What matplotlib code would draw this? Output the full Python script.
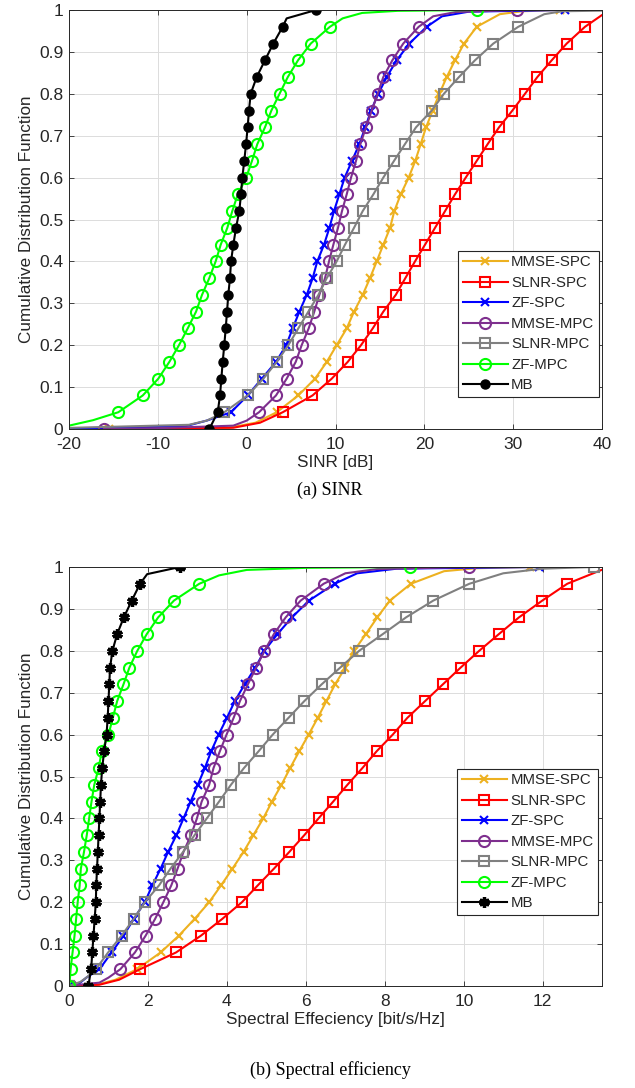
import numpy as np
import matplotlib
matplotlib.use("Agg")
import matplotlib.pyplot as plt

# ---------------- data ----------------
cdf_levels = [0.00, 0.04, 0.08, 0.12, 0.16, 0.20, 0.24, 0.28, 0.32, 0.36, 0.40, 0.44, 0.48,
              0.52, 0.56, 0.60, 0.64, 0.68, 0.72, 0.76, 0.80, 0.84, 0.88, 0.92, 0.96, 1.00]

names = ["MMSE-SPC", "SLNR-SPC", "ZF-SPC", "MMSE-MPC", "SLNR-MPC", "ZF-MPC", "MB"]

# SINR [dB] quantiles at cdf_levels
sinr_mmse_spc = [-15.5, 3.38, 5.81, 7.69, 9.01, 10.13, 11.26, 12.08, 13.06, 13.88, 14.64, 15.38, 16.14,
                 16.62, 17.34, 18.24, 18.98, 19.59, 20.19, 20.94, 21.69, 22.52, 23.45, 24.47, 25.9, 35.3]
sinr_slnr_spc = [-22.0, 4.06, 7.41, 9.57, 11.37, 12.87, 14.19, 15.38, 16.78, 17.86, 18.95, 20.08, 21.2,
                 22.33, 23.45, 24.66, 25.9, 27.13, 28.41, 29.91, 31.33, 32.72, 34.34, 36.03, 38.09, 44.0]
sinr_zf_spc = [-24.0, -1.76, 0.11, 1.7, 3.3, 4.45, 5.18, 5.93, 6.76, 7.43, 7.95, 8.71, 9.31,
               9.83, 10.43, 11.03, 11.86, 12.68, 13.36, 14.0, 14.82, 15.76, 16.89, 18.31, 20.27, 35.84]
sinr_mmse_mpc = [-16.06, 1.39, 3.30, 4.5, 5.52, 6.19, 6.98, 7.61, 8.18, 8.82, 9.27, 9.76, 10.28,
                 10.73, 11.26, 11.75, 12.31, 12.80, 13.43, 14.08, 14.75, 15.38, 16.4, 17.63, 19.37, 30.47]
sinr_slnr_mpc = [-25.0, -2.52, 0.11, 1.87, 3.38, 4.69, 5.81, 6.94, 8.07, 9.01, 10.13, 11.07, 12.08,
                 13.06, 14.26, 15.38, 16.59, 17.82, 19.06, 20.83, 22.2, 23.9, 25.7, 27.77, 30.58, 45.0]
sinr_zf_mpc = [-32.0, -14.45, -11.7, -9.95, -8.71, -7.62, -6.64, -5.70, -5.03, -4.21, -3.49, -2.92, -2.18,
               -1.62, -1.0, -0.05, 0.6, 1.2, 2.06, 2.78, 3.7, 4.63, 5.78, 7.22, 9.38, 25.9]
sinr_mb = [-4.2, -3.26, -3.0, -2.85, -2.70, -2.52, -2.36, -2.21, -2.07, -1.88, -1.76, -1.50, -1.20,
           -0.83, -0.64, -0.49, -0.27, -0.07, 0.11, 0.26, 0.45, 1.13, 2.06, 3.0, 4.06, 7.8]

# extra line points (cdf, SINR) between the marked quantiles
sinr_tail_cdf = {
    "MMSE-SPC": [0.003, 0.015, 0.99, 0.997],
    "SLNR-SPC": [0.003, 0.015, 0.988],
    "ZF-SPC": [0.006, 0.02, 0.985, 0.996],
    "MMSE-MPC": [0.002, 0.008, 0.02, 0.985, 0.995],
    "SLNR-MPC": [0.01, 0.02, 0.99, 0.997],
    "ZF-MPC": [0.008, 0.021, 0.98, 0.993, 0.998],
    "MB": [0.98],
}
sinr_tail_x = {
    "MMSE-SPC": [-2.0, 1.0, 28.5, 31.0],
    "SLNR-SPC": [-1.5, 1.5, 40.0],
    "ZF-SPC": [-7.0, -4.5, 22.0, 25.0],
    "MMSE-MPC": [-10.0, -1.5, 0.0, 21.0, 23.5],
    "SLNR-MPC": [-6.5, -4.5, 33.5, 35.5],
    "ZF-MPC": [-20.0, -17.3, 10.8, 13.0, 17.0],
    "MB": [4.5],
}

# Spectral efficiency [bit/s/Hz] quantiles at cdf_levels
se_mmse_spc = [0.04, 1.72, 2.32, 2.78, 3.18, 3.55, 3.85, 4.14, 4.42, 4.67, 4.92, 5.14, 5.38,
               5.60, 5.83, 6.07, 6.30, 6.52, 6.74, 7.00, 7.22, 7.52, 7.81, 8.13, 8.66, 11.68]
se_slnr_spc = [0.0, 1.80, 2.71, 3.34, 3.88, 4.38, 4.78, 5.19, 5.58, 5.96, 6.32, 6.69, 7.05,
               7.43, 7.79, 8.20, 8.57, 9.02, 9.47, 9.92, 10.39, 10.89, 11.40, 11.99, 12.62, 14.2]
se_zf_spc = [0.0, 0.77, 1.08, 1.38, 1.64, 1.92, 2.11, 2.32, 2.51, 2.72, 2.90, 3.08, 3.26,
             3.44, 3.60, 3.79, 4.00, 4.20, 4.45, 4.72, 4.95, 5.28, 5.65, 6.08, 6.73, 11.91]
se_mmse_mpc = [0.04, 1.30, 1.67, 1.94, 2.18, 2.39, 2.59, 2.75, 2.90, 3.09, 3.24, 3.36, 3.55,
               3.66, 3.82, 3.99, 4.17, 4.33, 4.53, 4.74, 4.95, 5.19, 5.49, 5.87, 6.45, 10.13]
se_slnr_mpc = [0.0, 0.68, 0.99, 1.33, 1.64, 1.92, 2.28, 2.57, 2.89, 3.18, 3.49, 3.80, 4.10,
               4.43, 4.80, 5.16, 5.56, 5.96, 6.40, 6.87, 7.35, 7.95, 8.54, 9.23, 10.14, 13.3]
se_zf_mpc = [0.01, 0.04, 0.09, 0.14, 0.18, 0.22, 0.27, 0.30, 0.38, 0.45, 0.51, 0.57, 0.64,
             0.75, 0.83, 1.0, 1.11, 1.22, 1.38, 1.53, 1.73, 1.97, 2.26, 2.66, 3.30, 8.64]
se_mb = [0.49, 0.56, 0.59, 0.62, 0.65, 0.68, 0.69, 0.71, 0.73, 0.75, 0.77, 0.79, 0.81,
         0.84, 0.89, 0.95, 0.98, 1.0, 1.02, 1.04, 1.10, 1.22, 1.39, 1.59, 1.80, 2.81]

se_tail_cdf = {
    "MMSE-SPC": [0.003, 0.015, 0.99, 0.997],
    "SLNR-SPC": [0.003, 0.015, 0.993],
    "ZF-SPC": [0.006, 0.02, 0.985, 0.996],
    "MMSE-MPC": [0.002, 0.008, 0.02, 0.985, 0.995],
    "SLNR-MPC": [0.01, 0.02, 0.985, 0.996],
    "ZF-MPC": [0.98, 0.993, 0.998],
    "MB": [0.983],
}
se_tail_x = {
    "MMSE-SPC": [0.70, 1.18, 9.5, 10.3],
    "SLNR-SPC": [0.77, 1.27, 13.49],
    "ZF-SPC": [0.26, 0.44, 7.3, 8.3],
    "MMSE-MPC": [0.14, 0.77, 1.0, 7.0, 7.8],
    "SLNR-MPC": [0.29, 0.44, 11.0, 12.0],
    "ZF-MPC": [3.8, 4.5, 6.0],
    "MB": [1.98],
}

sinr_data = dict(zip(names, [sinr_mmse_spc, sinr_slnr_spc, sinr_zf_spc, sinr_mmse_mpc,
                             sinr_slnr_mpc, sinr_zf_mpc, sinr_mb]))
se_data = dict(zip(names, [se_mmse_spc, se_slnr_spc, se_zf_spc, se_mmse_mpc,
                           se_slnr_mpc, se_zf_mpc, se_mb]))

# ---------------- styles ----------------
colors = {"MMSE-SPC": "#EDB120", "SLNR-SPC": "#FF0000", "ZF-SPC": "#0000FF",
          "MMSE-MPC": "#7E2F8E", "SLNR-MPC": "#808080", "ZF-MPC": "#00FF00", "MB": "#000000"}
markers = {"MMSE-SPC": ("x", 5.5, "none"), "SLNR-SPC": ("s", 6.5, "none"),
           "ZF-SPC": ("x", 5.5, "none"), "MMSE-MPC": ("o", 8, "none"),
           "SLNR-MPC": ("s", 6.5, "none"), "ZF-MPC": ("o", 8, "none")}

plt.rcParams["font.family"] = ["Liberation Sans", "DejaVu Sans"]
plt.rcParams["axes.unicode_minus"] = False
TXT = "#262626"

fig = plt.figure(figsize=(6.35, 10.88), dpi=100)
W, H = 635, 1088
ax1 = fig.add_axes([69 / W, 1 - 429 / H, 533 / W, 419 / H])
ax2 = fig.add_axes([69 / W, 1 - 986 / H, 533 / W, 419 / H])


def draw(ax, data, tail_cdf, tail_x, mb_marker):
    for n in names:
        xs = list(data[n]) + list(tail_x[n])
        ys = list(cdf_levels) + list(tail_cdf[n])
        is_mark = [True] * len(cdf_levels) + [False] * len(tail_cdf[n])
        order = np.argsort(ys, kind="stable")
        xs = np.array(xs)[order]
        ys = np.array(ys)[order]
        mk = [i for i, k in enumerate(order) if is_mark[k]]
        if n == "MB":
            m, ms, mfc, mew = mb_marker
        else:
            m, ms, mfc = markers[n]
            mew = 1.5
        ax.plot(xs, ys, color=colors[n], lw=1.5, marker=m, ms=ms, mfc=mfc if mfc != "fill" else colors[n],
                mec=colors[n], mew=mew, markevery=mk, label=n)


draw(ax1, sinr_data, sinr_tail_cdf, sinr_tail_x, ("o", 6.5, "fill", 1.0))
draw(ax2, se_data, se_tail_cdf, se_tail_x, ((6, 2, 0), 7.5, "fill", 2.4))

for ax in (ax1, ax2):
    ax.set_ylim(0, 1)
    ax.set_yticks([0, 0.1, 0.2, 0.3, 0.4, 0.5, 0.6, 0.7, 0.8, 0.9, 1.0])
    ax.set_yticklabels(["0", "0.1", "0.2", "0.3", "0.4", "0.5", "0.6", "0.7", "0.8", "0.9", "1"])
    ax.grid(True, color="#dcdcdc", lw=0.7)
    ax.set_axisbelow(True)
    for s in ax.spines.values():
        s.set_color(TXT)
        s.set_linewidth(0.7)
    ax.tick_params(direction="in", length=3.5, width=0.6, colors=TXT, labelsize=12.5,
                   top=True, right=True)
    ax.tick_params(axis="y", pad=4)
    ax.tick_params(axis="x", pad=6)
    ax.set_ylabel("Cumulative Distribution Function", fontsize=12.3, color=TXT, labelpad=4)

ax1.set_xlim(-20, 40)
ax1.set_xticks([-20, -10, 0, 10, 20, 30, 40])
ax1.set_xlabel("SINR [dB]", fontsize=12.3, color=TXT, labelpad=2)
ax2.set_xlim(0, 13.5)
ax2.set_xticks([0, 2, 4, 6, 8, 10, 12])
ax2.set_xlabel("Spectral Effeciency [bit/s/Hz]", fontsize=12.3, color=TXT, labelpad=2)

leg_kw = dict(loc="upper left", fontsize=10.8, frameon=True, fancybox=False, framealpha=1,
              edgecolor=TXT, handlelength=3.0, handletextpad=0.25, labelspacing=0.43,
              borderpad=0.3, borderaxespad=0)
l1 = ax1.legend(bbox_to_anchor=((458 - 69) / 533, (429 - 251) / 419), **leg_kw)
l2 = ax2.legend(bbox_to_anchor=((457 - 69) / 533, (986 - 769) / 419), **leg_kw)
for lg in (l1, l2):
    lg.get_frame().set_linewidth(0.8)
    for t in lg.get_texts():
        t.set_color(TXT)

fig.text(330 / W, 1 - 490 / H, "(a) SINR", ha="center", va="center",
         fontsize=13, family=["Liberation Serif", "DejaVu Serif"])
fig.text(330 / W, 1 - 1070 / H, "(b) Spectral efficiency", ha="center", va="center",
         fontsize=13, family=["Liberation Serif", "DejaVu Serif"])

fig.savefig("out.png", dpi=100)
